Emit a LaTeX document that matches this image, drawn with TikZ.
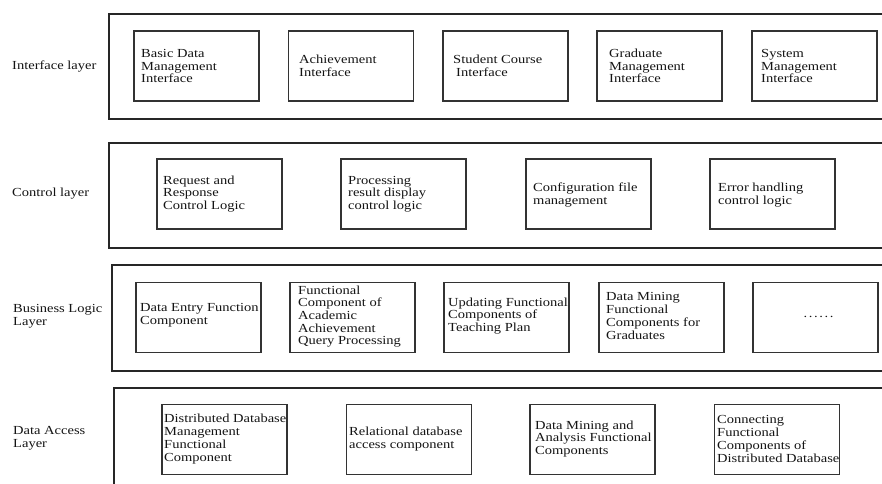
\documentclass[tikz,border=0pt]{standalone}
\usepackage{fontspec}
\setmainfont{Liberation Serif}[FakeStretch=1.18]
\begin{document}
\begin{tikzpicture}[x=1pt,y=-1pt,
  layer/.style={draw=black!85, line width=1.8pt, anchor=north west, inner sep=0pt},
  comp/.style={draw=black!80, line width=1.5pt, minimum width=125pt, minimum height=70pt, inner sep=0pt},
  txt/.style={anchor=west, align=left, inner sep=0pt, font=\fontsize{12.3}{12.7}\selectfont, text=black!92}]
\useasboundingbox (0,0) rectangle (882,483);
\clip (0,0) rectangle (882,483);
% layers
\node[layer, minimum width=790pt, minimum height=105pt] (L1) at (108,13) {};
\node[layer, minimum width=790pt, minimum height=105pt] (L2) at (108,142) {};
\node[layer, minimum width=790pt, minimum height=106pt] (L3) at (111,264) {};
\node[layer, minimum width=790pt, minimum height=130pt] (L4) at (113,387) {};
% layer labels
\node[txt] (l1) at (12,66) {Interface layer};
\node[txt] (l2) at (12,194) {Control layer};
\node[txt] (l3) at (13,316) {Business Logic\\Layer};
\node[txt] (l4) at (13,438) {Data Access\\Layer};
% row 1
\node[comp] (a1) at (196.5,66) {};
\node[comp] (a2) at (351,66) {};
\node[comp] (a3) at (505.5,66) {};
\node[comp] (a4) at (659.5,66) {};
\node[comp] (a5) at (814.5,66) {};
\node[txt] (a1t) at (141,66) {Basic Data\\Management\\Interface};
\node[txt] (a2t) at (299,66) {Achievement\\Interface};
\node[txt] (a3t) at (453,66) {Student Course\\\hspace*{3pt}Interface};
\node[txt] (a4t) at (609,66) {Graduate\\Management\\Interface};
\node[txt] (a5t) at (761,66) {System\\Management\\Interface};
% row 2
\node[comp] (b1) at (219.5,194) {};
\node[comp] (b2) at (403.5,194) {};
\node[comp] (b3) at (588.5,194) {};
\node[comp] (b4) at (772.5,194) {};
\node[txt] (b1t) at (163,194) {Request and\\Response\\Control Logic};
\node[txt] (b2t) at (348,194) {Processing\\result display\\control logic};
\node[txt] (b3t) at (533,195) {Configuration file\\management};
\node[txt] (b4t) at (718,195) {Error handling\\control logic};
% row 3
\node[comp] (c1) at (198.5,317.5) {};
\node[comp] (c2) at (352.5,317.5) {};
\node[comp] (c3) at (506.5,317.5) {};
\node[comp] (c4) at (661.5,317.5) {};
\node[comp] (c5) at (815.5,317.5) {};
\node[txt] (c1t) at (140,315.5) {Data Entry Function\\Component};
\node[txt] (c2t) at (298,316.5) {Functional\\Component of\\Academic\\Achievement\\Query Processing};
\node[txt] (c3t) at (448,316) {Updating Functional\\Components of\\Teaching Plan};
\node[txt] (c4t) at (606,316) {Data Mining\\Functional\\Components for\\Graduates};
\node[txt, anchor=center] (c5t) at (818.5,317) {.\kern1.6pt.\kern1.6pt.\kern1.6pt.\kern1.6pt.\kern1.6pt.};
% row 4
\node[comp] (d1) at (224.5,439.5) {};
\node[comp] (d2) at (409,439.5) {};
\node[comp] (d3) at (592.5,439.5) {};
\node[comp] (d4) at (777,439.5) {};
\node[txt] (d1t) at (164,439) {Distributed Database\\Management\\Functional\\Component};
\node[txt] (d2t) at (349,439) {Relational database\\access component};
\node[txt] (d3t) at (535,439) {Data Mining and\\Analysis Functional\\Components};
\node[txt] (d4t) at (717,439) {Connecting\\Functional\\Components of\\Distributed Database};
\end{tikzpicture}
\end{document}
